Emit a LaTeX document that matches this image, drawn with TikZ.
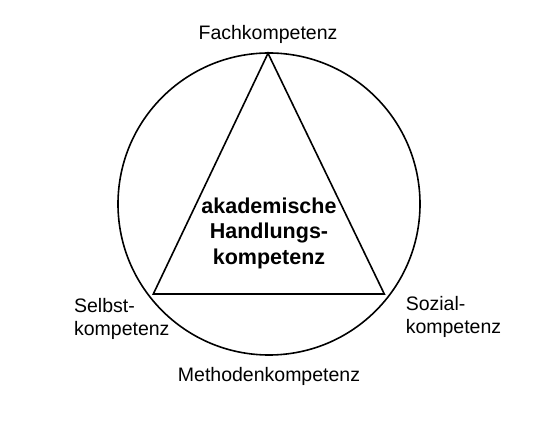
\documentclass[tikz,border=0pt]{standalone}
\usepackage{fontspec}
\setmainfont{Liberation Sans}
\usetikzlibrary{positioning}

\begin{document}
\begin{tikzpicture}[x=1pt,y=1pt,line width=1.6pt]
  \tikzstyle{ring}=[circle,draw,minimum size=302pt,inner sep=0pt]
  \tikzstyle{labelN}=[inner sep=0pt,align=left,font=\fontsize{19.5}{22.5}\selectfont]
  \tikzstyle{labelB}=[inner sep=0pt,align=center,font=\fontsize{21.5}{25.5}\selectfont\bfseries]

  \useasboundingbox (0,0) rectangle (543,425);

  % circle and triangle
  \node[ring] (ring) at (269,221) {};
  \coordinate (c_top)   at (268,371.7);
  \coordinate (c_left)  at (153.3,131);
  \coordinate (c_right) at (384.3,131);
  \draw[line join=miter] (c_top) -- (c_left) -- (c_right) -- cycle;

  % labels
  \node[labelB, anchor=north] (k_akad)   at (269,228) {akademische\\Handlungs-\\kompetenz};
  \node[labelN]               (k_fach)   [above=8.5pt of c_top] {Fachkompetenz};
  \node[labelN]               (k_method) [below=11pt of ring]   {Methodenkompetenz};
  \node[labelN, anchor=north west] (k_selbst) at (73.3,127.3) {Selbst-\\kompetenz};
  \node[labelN, anchor=north west] (k_sozial) at (405,129)    {Sozial-\\kompetenz};
\end{tikzpicture}
\end{document}
